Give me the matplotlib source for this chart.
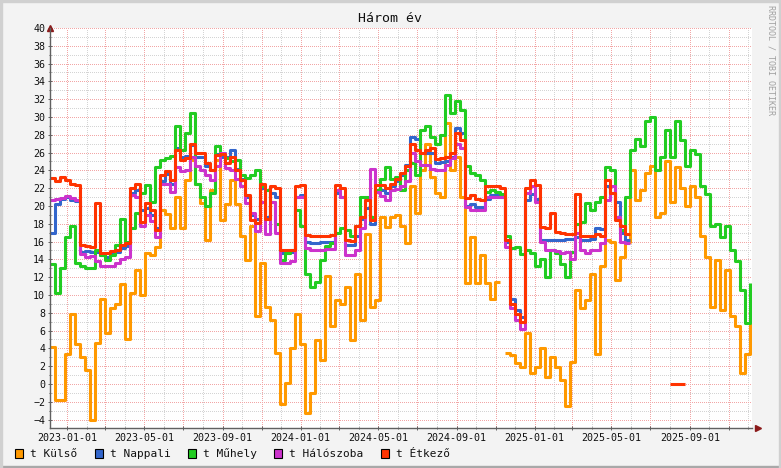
import numpy as np
import pandas as pd
import matplotlib
matplotlib.use('Agg')
import matplotlib.pyplot as plt
import matplotlib.dates as mdates
from matplotlib.ticker import MultipleLocator, FuncFormatter
from matplotlib.patches import Rectangle

plt.rcParams['font.family'] = 'DejaVu Sans Mono'

nan = np.nan
# mintavételi időpontok (~7.8 naponként)
dates = pd.date_range('2022-12-05', '2025-12-04', periods=141)

kulso = [4.2, -1.8, -1.8, 3.4, 7.9, 4.5, 3.0, 1.6, -4.0, 4.6, 9.5, 5.7, 8.5, 9.0, 11.2, 5.0, 10.2, 12.8, 10.0, 14.7, 14.5, 15.4, 19.5,
         19.1, 17.5, 21.0, 17.5, 22.9, 25.2, 22.5, 20.3, 16.2, 21.8, 25.2, 18.4, 20.2, 22.9, 20.2, 16.6, 13.9, 17.7, 7.6, 13.6, 8.7, 7.2, 3.5,
         -2.2, 0.1, 4.0, 7.9, 4.5, -3.3, -1.0, 4.9, 2.7, 12.1, 6.5, 9.4, 9.0, 10.9, 4.9, 12.4, 7.2, 16.9, 8.7, 9.4, 18.8, 17.6, 18.8,
         19.0, 17.7, 15.8, 22.2, 19.2, 24.0, 27.0, 23.3, 21.5, 21.0, 29.3, 24.0, 25.5, 21.0, 11.3, 16.5, 11.3, 14.5, 11.3, 9.5, 11.5, nan, 3.5,
         3.2, 2.3, 1.9, 5.7, 1.2, 1.9, 4.0, 0.8, 3.0, 1.9, 0.5, -2.5, 2.5, 10.6, 8.5, 9.4, 12.4, 3.4, 13.2, 16.2, 16.0, 11.7, 14.3,
         16.0, 24.0, 20.7, 21.8, 23.7, 24.5, 18.8, 19.2, 25.0, 20.4, 24.4, 22.0, 20.0, 22.2, 21.0, 16.6, 14.3, 8.7, 13.9, 8.3, 12.8, 7.6, 6.5, 1.2, 3.4, 7.6]

nappali = [17.0, 20.2, 20.8, 21.0, 20.7, 20.6, 14.8, 14.9, 14.8, 14.8, 14.5, 14.3, 14.6, 14.8, 15.3, 15.5, 21.5, 21.8, 19.5, 19.8, 19.0, 17.5, 22.8,
           23.6, 22.5, 26.5, 25.5, 25.6, 26.8, 25.5, 25.5, 24.5, 24.0, 25.8, 25.5, 25.5, 26.3, 24.2, 23.0, 21.0, 19.0, 18.5, 22.0, 18.8, 21.5, 21.0,
           14.7, 14.7, 14.8, 21.0, 21.2, 16.0, 15.8, 15.8, 15.9, 15.9, 15.9, 21.5, 21.0, 15.6, 15.6, 16.6, 18.5, 19.8, 18.0, 21.8, 21.8, 21.5, 22.3,
           22.8, 23.5, 24.6, 27.8, 27.5, 25.9, 26.0, 26.0, 24.8, 24.9, 25.0, 25.5, 28.8, 28.2, 20.0, 20.2, 19.9, 19.9, 20.8, 21.2, 21.2, 21.0, 16.0,
           9.5, 8.3, 7.5, 20.7, 21.3, 20.8, 16.2, 16.2, 16.2, 16.2, 16.2, 16.3, 16.3, 16.5, 16.2, 16.2, 16.3, 17.5, 17.4, 22.2, 21.5, 20.5, 17.0,
           16.2] + [nan] * 25

muhely = [13.5, 10.2, 13.0, 16.5, 17.8, 13.6, 13.2, 13.0, 13.0, 15.0, 14.5, 13.9, 14.5, 15.6, 18.5, 16.0, 17.5, 19.2, 21.5, 22.4, 20.5, 24.4, 25.2,
          25.4, 25.6, 29.0, 26.3, 28.2, 30.5, 22.5, 21.0, 20.0, 21.5, 26.7, 26.0, 25.4, 25.0, 25.2, 23.5, 23.1, 23.5, 24.0, 22.2, 21.8, 20.5, 18.0,
          13.9, 14.7, 15.0, 19.6, 17.7, 12.4, 10.9, 11.5, 13.9, 15.5, 15.8, 17.0, 17.5, 17.3, 16.6, 17.7, 21.0, 21.0, 18.8, 21.8, 23.0, 24.4, 23.0,
          23.2, 21.8, 24.0, 24.8, 23.5, 28.5, 29.0, 27.8, 27.0, 28.0, 32.5, 30.5, 31.8, 30.8, 24.5, 23.7, 23.5, 22.9, 21.6, 21.8, 21.6, 21.4, 16.6,
          15.3, 15.4, 14.6, 15.1, 14.7, 13.2, 14.0, 12.0, 15.0, 14.7, 13.5, 12.0, 14.8, 18.0, 18.2, 20.3, 19.6, 20.5, 21.0, 24.4, 24.0, 18.8, 17.3,
          21.0, 26.3, 27.5, 26.7, 29.5, 30.0, 24.0, 25.5, 28.5, 25.5, 29.5, 27.4, 24.5, 26.3, 25.8, 22.2, 21.4, 17.7, 18.0, 16.5, 17.7, 15.1, 13.8, 10.6, 6.8, 11.3]

haloszoba = [20.7, 20.8, 20.9, 21.1, 20.9, 20.7, 14.6, 14.3, 14.4, 13.8, 13.2, 13.2, 13.3, 13.6, 14.0, 14.3, 21.2, 21.0, 17.8, 19.0, 18.3, 16.5, 22.5,
             22.5, 21.6, 24.4, 23.9, 24.0, 25.5, 24.5, 24.0, 23.5, 22.9, 24.5, 26.0, 24.3, 24.0, 23.0, 22.2, 20.3, 19.2, 17.2, 20.5, 16.9, 20.5, 17.0,
             13.6, 13.6, 13.8, 21.0, 21.0, 15.3, 15.1, 15.1, 15.1, 15.2, 15.2, 21.8, 21.0, 14.5, 14.5, 15.0, 17.5, 20.7, 24.2, 21.6, 21.1, 20.7, 21.8,
             21.9, 22.2, 22.8, 25.9, 25.0, 24.6, 24.6, 24.2, 24.0, 24.0, 24.6, 25.4, 27.0, 26.5, 19.9, 19.6, 19.6, 19.6, 21.0, 21.0, 21.0, 21.0, 15.4,
             8.5, 7.2, 6.2, 21.5, 22.2, 20.5, 16.0, 15.1, 15.1, 14.9, 14.7, 14.8, 14.0, 17.0, 15.1, 14.7, 15.1, 15.1, 15.8, 20.7, 22.2, 18.8, 16.0,
             15.8] + [nan] * 25

etkezo = [23.1, 22.8, 23.3, 22.9, 22.5, 22.4, 15.6, 15.5, 15.4, 20.3, 14.7, 14.7, 14.9, 15.0, 15.6, 15.8, 22.0, 22.5, 18.2, 20.3, 19.5, 17.3, 23.5,
          23.9, 22.9, 26.3, 25.2, 25.4, 27.0, 25.9, 25.9, 24.8, 24.0, 25.7, 25.8, 24.8, 25.5, 24.0, 22.9, 21.2, 18.4, 18.1, 22.5, 18.5, 22.2, 22.0,
          15.1, 15.1, 15.1, 22.2, 22.4, 16.7, 16.6, 16.6, 16.6, 16.6, 16.7, 22.4, 22.0, 16.2, 16.1, 17.7, 18.8, 20.7, 18.4, 22.4, 22.4, 22.0, 22.5,
          23.0, 23.7, 24.5, 27.0, 26.3, 25.9, 26.3, 26.5, 25.3, 25.4, 25.5, 25.9, 28.2, 27.4, 20.9, 21.2, 20.8, 20.7, 22.2, 22.2, 22.2, 22.0, 16.2,
          9.0, 7.9, 7.0, 22.0, 22.9, 22.4, 17.6, 17.5, 19.2, 17.1, 17.0, 16.9, 16.9, 21.4, 16.6, 16.6, 16.6, 16.9, 16.6, 22.9, 21.5, 18.4, 17.7,
          16.9] + [nan] * 8 + [0.0, 0.0, 0.0] + [nan] * 14

names = ['t Külső', 't Nappali', 't Műhely', 't Hálószoba', 't Étkező']
colors = ['#ff9900', '#3366cc', '#22cc22', '#cc33cc', '#ff3300']
series = [kulso, nappali, muhely, haloszoba, etkezo]

W, H = 781, 468
fig = plt.figure(figsize=(W / 100, H / 100), dpi=100)
fig.patch.set_facecolor('#f3f3f3')

# keret
fig.patches.append(Rectangle((0, 0), 1, 2 / H, transform=fig.transFigure, color='#a8a8a8', zorder=0))
fig.patches.append(Rectangle((0, 1 - 2 / H), 1, 2 / H, transform=fig.transFigure, color='#d0d0d0', zorder=0))
fig.patches.append(Rectangle((0, 0), 2 / W, 1, transform=fig.transFigure, color='#d0d0d0', zorder=0))
fig.patches.append(Rectangle((1 - 2 / W, 0), 2 / W, 1, transform=fig.transFigure, color='#d0d0d0', zorder=0))

ax = fig.add_axes([50 / W, 40 / H, 702 / W, 400 / H])
ax.set_facecolor('white')

for s, c in zip(series, colors):
    ax.plot(dates, s, color=c, lw=2.2, drawstyle='steps-post', solid_capstyle='butt')

ax.set_xlim(pd.Timestamp('2022-12-05'), pd.Timestamp('2025-12-07'))
ax.set_ylim(-4.95, 40)

ax.yaxis.set_major_locator(MultipleLocator(2))
ax.yaxis.set_minor_locator(MultipleLocator(1))
ax.xaxis.set_major_locator(mdates.MonthLocator(bymonth=[1, 3, 5, 7, 9, 11]))
ax.xaxis.set_minor_locator(mdates.MonthLocator())


def datefmt(x, pos):
    d = mdates.num2date(x)
    return d.strftime('%Y-%m-%d') if d.month in (1, 5, 9) else ''


ax.xaxis.set_major_formatter(FuncFormatter(datefmt))

ax.grid(which='minor', color='#d4d4d4', lw=0.72, ls=(0, (1, 1.5)), antialiased=False)
ax.grid(which='major', color='#f2a6a6', lw=0.72, ls=(0, (1, 1.5)), antialiased=False)
ax.set_axisbelow(True)

for sp in ['top', 'right']:
    ax.spines[sp].set_visible(False)
for sp in ['left', 'bottom']:
    ax.spines[sp].set_color('#606060')
    ax.spines[sp].set_linewidth(1.0)

ax.tick_params(which='both', direction='inout', length=3, width=0.7, color='#606060',
               labelsize=7.2, labelcolor='#111111', pad=2)
ax.tick_params(which='minor', length=2)
ax.set_yticks([v for v in range(-4, 41, 2)])

# tengely nyilak
ax.plot([0], [1.0], marker='^', color='#8b1a1a', ms=4, transform=ax.transAxes, clip_on=False)
ax.plot([1.008], [0], marker='>', color='#8b1a1a', ms=4, transform=ax.transAxes, clip_on=False)

fig.text(390 / W, 1 - 19 / H, 'Három év', ha='center', va='center', fontsize=9.5, color='#111111')
fig.text(771 / W, 1 - 5 / H, 'RRDTOOL / TOBI OETIKER', rotation=270, ha='center', va='top',
         fontsize=6, color='#a0a0a0')

# jelmagyarázat
leg_x = [15, 95, 188, 274, 381]
for x0, name, c in zip(leg_x, names, colors):
    fig.patches.append(Rectangle((x0 / W, 1 - 458 / H), 8 / W, 9 / H, transform=fig.transFigure,
                                 facecolor=c, edgecolor='black', lw=0.8))
    fig.text((x0 + 15) / W, 1 - 454 / H, name, ha='left', va='center', fontsize=8, color='#111111')

fig.savefig('out.png', dpi=100, facecolor=fig.get_facecolor())
